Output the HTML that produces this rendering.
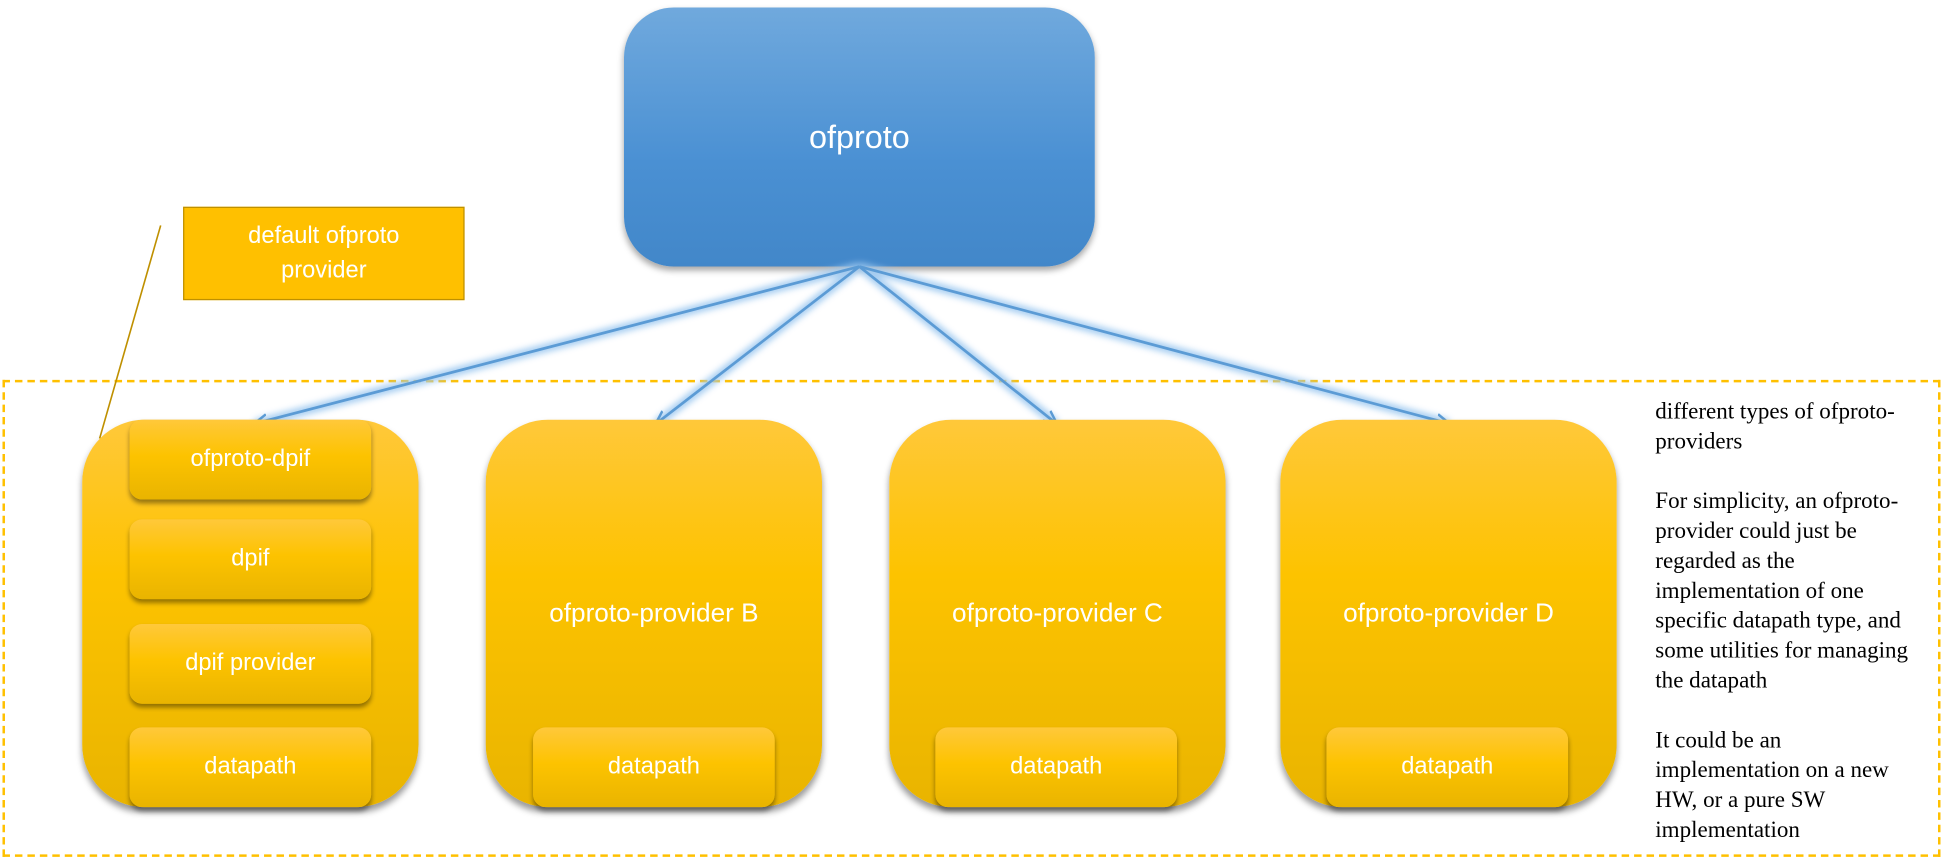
<!DOCTYPE html>
<html><head><meta charset="utf-8"><style>
html,body{margin:0;padding:0;background:#fff;width:1953px;height:860px;overflow:hidden}
#s{position:absolute;left:0;top:0;width:1568px;height:690px;transform:scale(1.2455);transform-origin:0 0;font-family:"Liberation Sans",sans-serif}
.a{position:absolute;box-sizing:border-box}
.top{left:501px;top:6px;width:378px;height:208px;border-radius:40px;background:linear-gradient(#70a9dd,#4a90d3 60%,#4287c9);box-shadow:0 3px 5px rgba(0,0,0,.35);color:#fff;font-size:26px;display:flex;align-items:center;justify-content:center}
.prov{top:337px;width:270px;height:311px;border-radius:50px;background:linear-gradient(#ffc83a,#fdc300 40%,#e9b400);box-shadow:0 4px 5px rgba(0,0,0,.4);color:#fff;font-size:21px;display:flex;align-items:center;justify-content:center;padding-bottom:0}
.in{width:194px;height:64px;border-radius:10px;background:linear-gradient(#ffc83a,#fdc300 45%,#e9b400);box-shadow:0 3px 4px rgba(0,0,0,.4);color:#fff;font-size:19px;display:flex;align-items:center;justify-content:center}
.note{left:1329px;top:319px;width:235px;white-space:nowrap;font-family:"Liberation Serif",serif;font-size:18.5px;line-height:24px;color:#000}
</style></head><body><div id="s">
<div class="a" style="left:2px;top:305px;width:1556px;height:383px;border:2px dashed #ffc000"></div>
<div class="a top">ofproto</div>
<div class="a" style="left:147px;top:166px;width:226px;height:75px;background:#ffc000;border:1.5px solid #bf9000;color:#fff;font-size:19px;text-align:center;line-height:28px;padding-top:9px">default ofproto<br>provider</div>
<svg class="a" style="left:0;top:0" width="1568" height="690">
<defs><filter id="g" x="-20%" y="-20%" width="140%" height="140%"><feGaussianBlur stdDeviation="2.5"/></filter>
<marker id="m" markerWidth="12" markerHeight="12" refX="10" refY="6" orient="auto" markerUnits="userSpaceOnUse"><path d="M0,1 L11,6 L0,11" fill="none" stroke="#5b9bd5" stroke-width="2"/></marker></defs>
<line x1="129" y1="181" x2="80" y2="352" stroke="#bf9000" stroke-width="1.3"/>
<g stroke="#9cc8f0" stroke-width="7" filter="url(#g)" opacity=".9">
<line x1="690" y1="214" x2="205" y2="340"/><line x1="690" y1="214" x2="527" y2="340"/><line x1="690" y1="214" x2="848" y2="340"/><line x1="690" y1="214" x2="1163" y2="340"/></g>
<g stroke="#5b9bd5" stroke-width="2.2" marker-end="url(#m)">
<line x1="690" y1="214" x2="205" y2="340"/><line x1="690" y1="214" x2="527" y2="340"/><line x1="690" y1="214" x2="848" y2="340"/><line x1="690" y1="214" x2="1163" y2="340"/></g>
</svg>
<div class="a prov" style="left:66px"></div>
<div class="a prov" style="left:390px">ofproto-provider B</div>
<div class="a prov" style="left:714px">ofproto-provider C</div>
<div class="a prov" style="left:1028px">ofproto-provider D</div>
<div class="a in" style="left:104px;top:337px">ofproto-dpif</div>
<div class="a in" style="left:104px;top:417px">dpif</div>
<div class="a in" style="left:104px;top:501px">dpif provider</div>
<div class="a in" style="left:104px;top:584px">datapath</div>
<div class="a in" style="left:428px;top:584px">datapath</div>
<div class="a in" style="left:751px;top:584px">datapath</div>
<div class="a in" style="left:1065px;top:584px">datapath</div>
<div class="a note">different types of ofproto-<br>providers<br><br>For simplicity, an ofproto-<br>provider could just be<br>regarded as the<br>implementation of one<br>specific datapath type, and<br>some utilities for managing<br>the datapath<br><br>It could be an<br>implementation on a new<br>HW, or a pure SW<br>implementation</div>
</div></body></html>
